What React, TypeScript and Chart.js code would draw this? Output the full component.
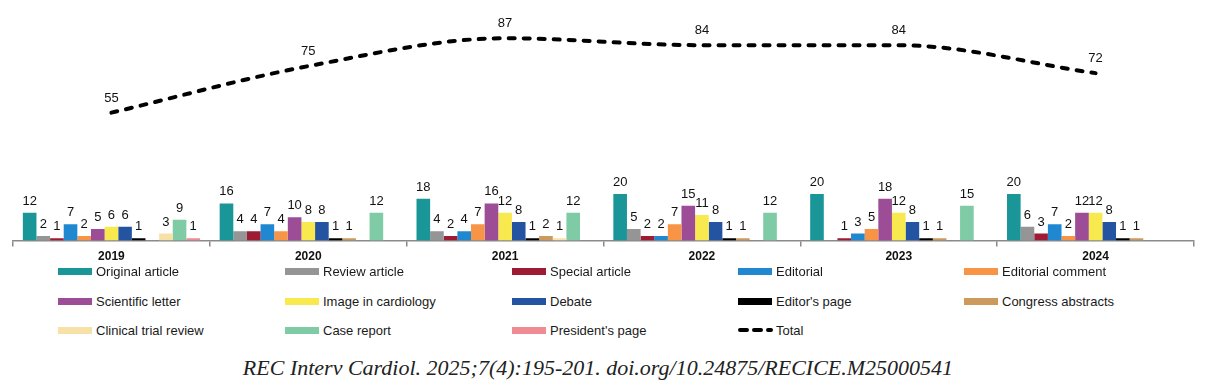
import React, { useEffect, useRef } from "react";
import { Chart, registerables } from "chart.js";

Chart.register(...registerables);

const years = ["2019", "2020", "2021", "2022", "2023", "2024"];

const originalArticle = [12, 16, 18, 20, 20, 20];
const reviewArticle = [2, 4, 4, 5, null, 6];
const specialArticle = [1, 4, 2, 2, 1, 3];
const editorial = [7, 7, 4, 2, 3, 7];
const editorialComment = [2, 4, 7, 7, 5, 2];
const scientificLetter = [5, 10, 16, 15, 18, 12];
const imageInCardiology = [6, 8, 12, 11, 12, 12];
const debate = [6, 8, 8, 8, 8, 8];
const editorsPage = [1, 1, 1, 1, 1, 1];
const congressAbstracts = [null, 1, 2, 1, 1, 1];
const clinicalTrialReview = [3, null, 1, null, null, null];
const caseReport = [9, 12, 12, 12, 15, null];
const presidentsPage = [1, null, null, null, null, null];
const total = [55, 75, 87, 84, 84, 72];

const seriesNames = [
  "Original article",
  "Review article",
  "Special article",
  "Editorial",
  "Editorial comment",
  "Scientific letter",
  "Image in cardiology",
  "Debate",
  "Editor's page",
  "Congress abstracts",
  "Clinical trial review",
  "Case report",
  "President's page",
];
const seriesValues = [
  originalArticle,
  reviewArticle,
  specialArticle,
  editorial,
  editorialComment,
  scientificLetter,
  imageInCardiology,
  debate,
  editorsPage,
  congressAbstracts,
  clinicalTrialReview,
  caseReport,
  presidentsPage,
];
const seriesColors = [
  "#1b9698",
  "#959595",
  "#9e1b34",
  "#1f88d0",
  "#f79446",
  "#9c4d96",
  "#f7e94e",
  "#2453a1",
  "#000000",
  "#cc9a5d",
  "#f8e1a6",
  "#7fcba6",
  "#f08a93",
];
const totalName = "Total";

const FONT = "'Liberation Sans', Arial, sans-serif";

const labelPlugin = {
  id: "valueLabels",
  afterDatasetsDraw(chart: any) {
    const ctx = chart.ctx;
    ctx.save();
    ctx.fillStyle = "#111";
    ctx.textAlign = "center";
    ctx.textBaseline = "alphabetic";
    ctx.font = `13px ${FONT}`;
    chart.data.datasets.forEach((ds: any, di: number) => {
      const meta = chart.getDatasetMeta(di);
      meta.data.forEach((el: any, i: number) => {
        const v = ds.data[i];
        if (v === null || v === undefined) return;
        const off = ds.type === "line" ? 11 : 8;
        ctx.fillText(String(v), el.x, el.y - off);
      });
    });
    ctx.restore();
  },
};

export default function App() {
  const ref = useRef<HTMLCanvasElement>(null);

  useEffect(() => {
    document.body.style.margin = "0";
    const canvas = ref.current!;
    const datasets: any[] = [
      {
        type: "line",
        label: totalName,
        data: total,
        borderColor: "#000",
        borderWidth: 4,
        borderDash: [6, 9],
        borderCapStyle: "round",
        pointRadius: 0,
        cubicInterpolationMode: "monotone",
        fill: false,
      },
      ...seriesNames.map((name, i) => ({
        type: "bar",
        label: name,
        data: seriesValues[i],
        backgroundColor: seriesColors[i],
        categoryPercentage: 0.9,
        barPercentage: 1.0,
      })),
    ];
    const chart = new Chart(canvas, {
      type: "bar",
      data: { labels: years, datasets },
      options: {
        animation: false,
        responsive: false,
        devicePixelRatio: 1,
        layout: { padding: { left: 13, right: 14, top: 8, bottom: 0 } },
        plugins: { legend: { display: false }, tooltip: { enabled: false } },
        scales: {
          x: {
            grid: {
              offset: true,
              drawOnChartArea: false,
              tickLength: 6,
              color: "#8a8a8a",
              lineWidth: 1.5,
            },
            border: { color: "#8a8a8a", width: 1.5 },
            ticks: {
              color: "#111",
              font: { family: FONT, size: 12, weight: "bold" },
              padding: 3,
            },
          },
          y: {
            display: false,
            min: 0,
            max: 100,
          },
        },
      },
      plugins: [labelPlugin],
    } as any);
    return () => chart.destroy();
  }, []);

  const colX = [58, 285, 512, 738, 964];
  const rowY = [271, 301, 330];
  const legendItems = [
    ...seriesNames.map((n, i) => ({ name: n, color: seriesColors[i], line: false })),
    { name: totalName, color: "#000", line: true },
  ];

  return (
    <div
      style={{
        position: "relative",
        width: 1208,
        height: 390,
        background: "#fff",
        overflow: "hidden",
      }}
    >
      <canvas
        ref={ref}
        width={1208}
        height={267}
        style={{ position: "absolute", left: 0, top: 0, width: 1208, height: 267 }}
      />
      {legendItems.map((it, i) => {
        const col = i % 5;
        const row = Math.floor(i / 5);
        return (
          <div
            key={it.name}
            style={{
              position: "absolute",
              left: colX[col],
              top: rowY[row] - 9,
              height: 18,
              display: "flex",
              alignItems: "center",
              fontFamily: FONT,
              fontSize: 13,
              color: "#1a1a1a",
              whiteSpace: "nowrap",
            }}
          >
            {it.line ? (
              <svg width={36} height={8} style={{ marginRight: 2 }}>
                <line
                  x1={2}
                  y1={4}
                  x2={33}
                  y2={4}
                  stroke="#000"
                  strokeWidth={4}
                  strokeLinecap="round"
                  strokeDasharray="7 7"
                />
              </svg>
            ) : (
              <span
                style={{
                  display: "inline-block",
                  width: 34,
                  height: 7,
                  background: it.color,
                  marginRight: 4,
                }}
              />
            )}
            <span>{it.name}</span>
          </div>
        );
      })}
      <div
        style={{
          position: "absolute",
          left: -6,
          top: 355,
          width: 1208,
          textAlign: "center",
          fontFamily: "'Liberation Serif', 'Times New Roman', serif",
          fontStyle: "italic",
          fontSize: 22,
          lineHeight: "26px",
          color: "#222",
        }}
      >
        REC Interv Cardiol. 2025;7(4):195-201. doi.org/10.24875/RECICE.M25000541
      </div>
    </div>
  );
}
